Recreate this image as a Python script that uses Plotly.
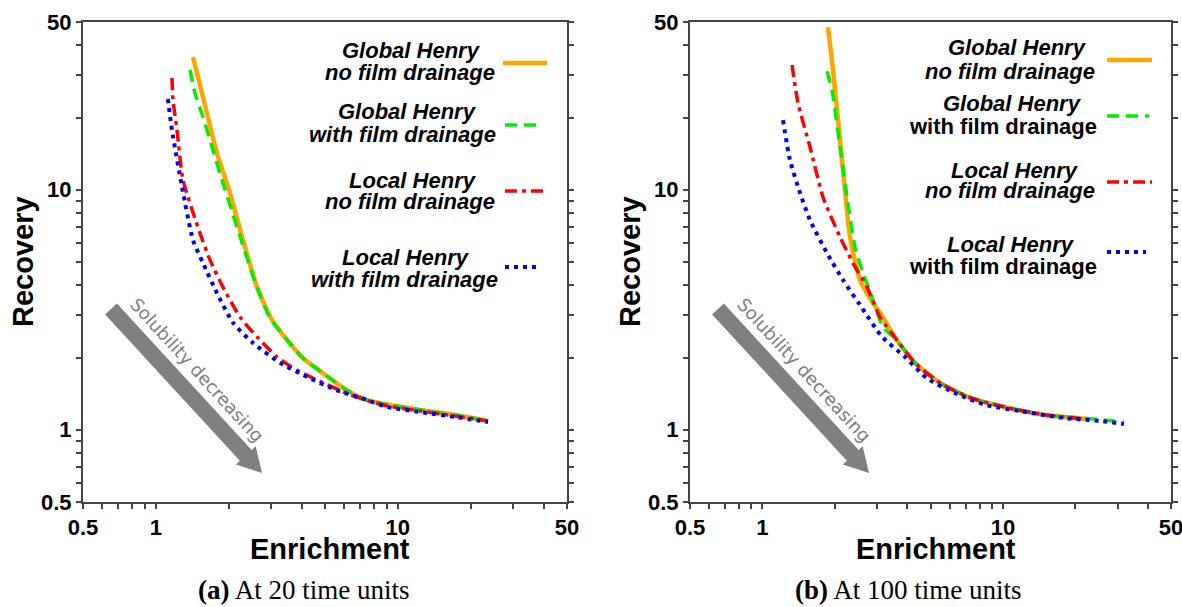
import plotly.graph_objects as go

W, H = 1182, 607

# ---------------- data ----------------
# Panel (a): at 20 time units
a_global_nofilm_x = [1.424, 1.596, 1.789, 2.025, 2.292, 2.618, 3.020, 3.483, 4.057, 4.906, 6.164, 7.456, 9.281, 12.35, 17.22, 23.58]
a_global_nofilm_y = [35.7, 22.5, 14.2, 9.69, 6.17, 3.93, 2.87, 2.37, 1.99, 1.72, 1.46, 1.33, 1.268, 1.21, 1.152, 1.088]

a_global_film_x = [1.384, 1.451, 1.566, 1.841, 2.164, 2.569, 2.963, 3.483, 4.057, 4.906, 6.164, 7.456, 9.281, 12.35, 17.22, 23.58]
a_global_film_y = [31.6, 25.3, 20.1, 11.7, 7.00, 4.13, 2.92, 2.37, 1.99, 1.72, 1.46, 1.33, 1.268, 1.21, 1.152, 1.088]

a_local_nofilm_x = [1.166, 1.177, 1.223, 1.295, 1.522, 1.674, 1.894, 2.227, 2.618, 3.167, 3.831, 4.906, 6.343, 8.684, 12.35, 17.22, 23.58]
a_local_nofilm_y = [29.2, 23.7, 17.7, 10.98, 6.60, 5.10, 3.93, 2.95, 2.44, 2.01, 1.77, 1.57, 1.40, 1.268, 1.197, 1.141, 1.088]

a_local_film_x = [1.122, 1.166, 1.283, 1.424, 1.566, 1.789, 2.084, 2.520, 3.258, 4.214, 5.603, 7.456, 9.020, 12.35, 17.22, 23.58]
a_local_film_y = [23.9, 17.7, 10.27, 6.17, 4.95, 3.71, 2.79, 2.30, 1.90, 1.66, 1.46, 1.33, 1.244, 1.186, 1.130, 1.077]

# Panel (b): at 100 time units
b_global_nofilm_x = [1.874, 1.966, 2.063, 2.163, 2.314, 2.546, 2.884, 3.083, 3.628, 4.352, 5.581, 7.367, 10.6, 15.1, 22.3]
b_global_nofilm_y = [47.6, 31.6, 19.5, 12.1, 6.36, 4.21, 3.37, 3.07, 2.36, 1.88, 1.55, 1.356, 1.232, 1.152, 1.109]

b_global_film_x = [1.856, 1.947, 2.102, 2.248, 2.427, 2.620, 2.884, 3.173, 3.628, 4.352, 5.581, 7.367, 10.6, 15.1, 21.5, 31.9]
b_global_film_y = [31.2, 26.0, 15.1, 9.33, 5.77, 4.50, 3.47, 2.68, 2.36, 1.88, 1.55, 1.356, 1.232, 1.152, 1.119, 1.077]

b_local_nofilm_x = [1.328, 1.406, 1.577, 1.786, 2.102, 2.380, 2.722, 3.083, 3.628, 4.352, 5.581, 7.367, 10.6, 15.1, 21.9]
b_local_nofilm_y = [33.1, 23.0, 15.1, 9.33, 6.36, 4.95, 3.93, 2.95, 2.36, 1.88, 1.55, 1.356, 1.232, 1.152, 1.109]

b_local_film_x = [1.218, 1.302, 1.434, 1.577, 1.856, 2.163, 2.546, 3.143, 3.916, 4.834, 6.444, 8.507, 11.78, 17.95, 25.58, 31.88]
b_local_film_y = [19.5, 13.3, 9.69, 7.48, 5.45, 4.21, 3.31, 2.44, 2.01, 1.64, 1.41, 1.268, 1.197, 1.119, 1.088, 1.057]

tick_vals = [0.5, 0.6, 0.7, 0.8, 0.9, 1, 2, 3, 4, 5, 6, 7, 8, 9, 10, 20, 30, 40, 50]
tick_text = ["0.5", "", "", "", "", "1", "", "", "", "", "", "", "", "", "10", "", "", "", "50"]

series_names = ["Global Henry no film drainage", "Global Henry with film drainage",
                "Local Henry no film drainage", "Local Henry with film drainage"]
captions = ["<b>(a)</b> At 20 time units", "<b>(b)</b> At 100 time units"]

# ---------------- styles ----------------
styles = [
    dict(color="#FFA500", width=4.5, dash="solid"),
    dict(color="#00EE00", width=3.5, dash="12px,7px"),
    dict(color="#FF0000", width=3.5, dash="12px,5px,4px,5px"),
    dict(color="#0000FF", width=4, dash="4px,5px"),
]

# panel pixel boxes (left, right, top, bottom)
panels = [(83, 567, 22, 502), (690, 1171, 22, 502)]

def px2paper(px, py):
    return px / W, 1 - py / H

fig = go.Figure()

data_a = [(a_global_nofilm_x, a_global_nofilm_y), (a_global_film_x, a_global_film_y),
          (a_local_nofilm_x, a_local_nofilm_y), (a_local_film_x, a_local_film_y)]
data_b = [(b_global_nofilm_x, b_global_nofilm_y), (b_global_film_x, b_global_film_y),
          (b_local_nofilm_x, b_local_nofilm_y), (b_local_film_x, b_local_film_y)]

for pi, dset in enumerate([data_a, data_b]):
    xa = "x" if pi == 0 else "x2"
    ya = "y" if pi == 0 else "y2"
    for si, (xs, ys) in enumerate(dset):
        fig.add_trace(go.Scatter(x=xs, y=ys, mode="lines", name=series_names[si],
                                 line=dict(shape="spline", smoothing=0.6, **styles[si]),
                                 xaxis=xa, yaxis=ya, showlegend=False, hoverinfo="x+y"))

tick_font = dict(family="Liberation Sans", size=22, color="black", weight=700)
title_font = dict(family="Liberation Sans, Arial", size=29, color="black")
axcol = "#444444"
bold_ticks = [("<b>" + t + "</b>") if t else "" for t in tick_text]

def axis_cfg(dom, anchor, mirror):
    return dict(type="log", range=[-0.30103, 1.69897], domain=dom, anchor=anchor,
                tickvals=tick_vals, ticktext=bold_ticks, ticks="outside", ticklen=5,
                tickwidth=1.5, tickcolor=axcol, showline=True, linecolor=axcol, linewidth=2,
                mirror=mirror, showgrid=False, zeroline=False, automargin=False,
                ticklabeloverflow="allow", tickfont=tick_font)

(l0, r0, t0, b0), (l1, r1, t1, b1) = panels
fig.update_layout(
    xaxis=axis_cfg([l0 / W, r0 / W], "y", True),
    yaxis=axis_cfg([1 - b0 / H, 1 - t0 / H], "x", "ticks"),
    xaxis2=axis_cfg([l1 / W, r1 / W], "y2", True),
    yaxis2=axis_cfg([1 - b1 / H, 1 - t1 / H], "x2", "ticks"),
)

annotations = []
shapes = []

# axis titles and captions
for pi, (L, R, T, B) in enumerate(panels):
    cx = (L + R) / 2
    x, y = px2paper(cx + 5, 549)
    annotations.append(dict(x=x, y=y, xref="paper", yref="paper", text="<b>Enrichment</b>",
                            showarrow=False, font=title_font, xanchor="center", yanchor="middle"))
    x, y = px2paper(L - 60, 262)
    annotations.append(dict(x=x, y=y, xref="paper", yref="paper", text="<b>Recovery</b>",
                            showarrow=False, font=title_font, textangle=-90,
                            xanchor="center", yanchor="middle"))
    capx = 304 if pi == 0 else 908
    x, _ = px2paper(capx, 0)
    annotations.append(dict(x=x, y=0, xref="paper", yref="paper", text=captions[pi],
                            showarrow=False,
                            font=dict(family="Liberation Serif, Times New Roman", size=27, color="black"),
                            xanchor="center", yanchor="bottom"))

# legend text (per line) and samples
legend_a = [
    [("<i>Global Henry</i>", 411, 50), ("<i>no film drainage</i>", 410, 73)],
    [("<i>Global Henry</i>", 407, 112), ("<i>with film drainage</i>", 402, 135)],
    [("<i>Local Henry</i>", 413, 180), ("<i>no film drainage</i>", 410, 202)],
    [("<i>Local Henry</i>", 406, 257), ("<i>with film drainage</i>", 404, 279)],
]
legend_b = [
    [("<i>Global Henry</i>", 1017, 47), ("<i>no film drainage</i>", 1010, 71)],
    [("<i>Global Henry</i>", 1012, 104), ("with film drainage", 1003, 127)],
    [("<i>Local Henry</i>", 1015, 170), ("<i>no film drainage</i>", 1010, 191)],
    [("<i>Local Henry</i>", 1011, 244), ("with film drainage", 1003, 266)],
]
samples_a = [(503, 547, 63), (505, 543, 125), (505, 547, 191), (505, 540, 267)]
samples_b = [(1107, 1152, 60), (1107, 1149, 116), (1107, 1152, 182), (1107, 1146, 252)]

leg_font = dict(family="Liberation Sans, Arial", size=22, color="black")
for leg, samp in [(legend_a, samples_a), (legend_b, samples_b)]:
    for si, lines in enumerate(leg):
        for txt, px, py in lines:
            x, y = px2paper(px, py)
            annotations.append(dict(x=x, y=y, xref="paper", yref="paper", text="<b>" + txt + "</b>",
                                    showarrow=False, font=leg_font, xanchor="center", yanchor="middle"))
        sx0, sx1, sy = samp[si]
        X0, Y0 = px2paper(sx0, sy)
        X1, _ = px2paper(sx1, sy)
        st = styles[si]
        shapes.append(dict(type="line", xref="paper", yref="paper", x0=X0, x1=X1, y0=Y0, y1=Y0,
                           line=dict(color=st["color"], width=st["width"], dash=st["dash"])))

# "Solubility decreasing" arrows
def arrow_path(tx, ty, hx, hy, hw=8, headw=13.5, headl=24):
    dx, dy = hx - tx, hy - ty
    ln = (dx * dx + dy * dy) ** 0.5
    ux, uy = dx / ln, dy / ln
    nx, ny = -uy, ux
    bx, by = hx - ux * headl, hy - uy * headl
    pts = [(tx + nx * hw, ty + ny * hw), (bx + nx * hw, by + ny * hw), (bx + nx * headw, by + ny * headw),
           (hx, hy), (bx - nx * headw, by - ny * headw), (bx - nx * hw, by - ny * hw),
           (tx - nx * hw, ty - ny * hw)]
    parts = []
    for i, (px, py) in enumerate(pts):
        X, Y = px2paper(px, py)
        parts.append(("M" if i == 0 else "L") + f"{X:.5f},{Y:.5f}")
    return " ".join(parts) + " Z"

for (L, R, T, B) in panels:
    tail = (L + 28, 309)
    tip = (L + 179, 473)
    shapes.append(dict(type="path", xref="paper", yref="paper",
                       path=arrow_path(tail[0], tail[1], tip[0], tip[1]),
                       fillcolor="#808080", line=dict(width=0)))
    x, y = px2paper(L + 114, 369)
    annotations.append(dict(x=x, y=y, xref="paper", yref="paper", text="Solubility decreasing",
                            showarrow=False, textangle=47.5,
                            font=dict(family="DejaVu Sans", size=18, color="#808080"),
                            xanchor="center", yanchor="middle"))

fig.update_layout(
    width=W, height=H, autosize=False,
    margin=dict(l=0, r=0, t=0, b=0, autoexpand=False),
    paper_bgcolor="white", plot_bgcolor="white",
    annotations=annotations, shapes=shapes, showlegend=False,
)

fig.write_html("out.html")
